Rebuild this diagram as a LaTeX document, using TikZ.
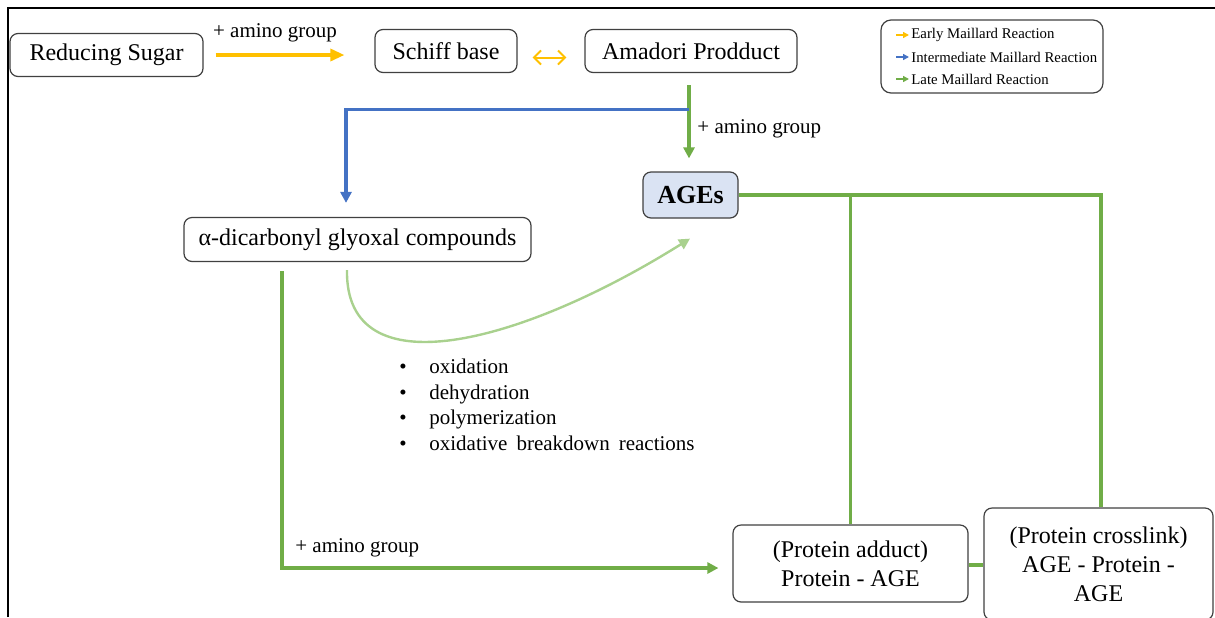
\documentclass[tikz,border=0pt]{standalone}
\usepackage{fontspec}
\setmainfont{Liberation Serif}
\usetikzlibrary{arrows.meta,calc}
\definecolor{cyel}{HTML}{FFC000}
\definecolor{cblue}{HTML}{4472C4}
\definecolor{cgreen}{HTML}{70AD47}
\definecolor{clight}{HTML}{A9D18E}
\definecolor{cagefill}{HTML}{DAE3F3}
\definecolor{cbord}{HTML}{404040}
\begin{document}
\begin{tikzpicture}[x=0.5pt,y=-0.5pt,
  box/.style={draw=cbord, line width=0.6pt, rounded corners=4pt, fill=white, inner sep=0pt, align=center, font=\fontsize{12}{14.5}\selectfont},
  lbl/.style={font=\fontsize{10.5}{12}\selectfont, inner sep=0pt},
  legtxt/.style={font=\fontsize{7.4}{9}\selectfont, inner sep=0pt, anchor=west},
  yarr/.style={draw=cyel, line width=1.6pt, -{Triangle[length=7pt,width=6pt]}},
  barr/.style={draw=cblue, line width=1.6pt, -{Triangle[length=5.5pt,width=5.5pt]}},
  garr/.style={draw=cgreen, line width=1.6pt, -{Triangle[length=5.5pt,width=5.5pt]}},
  gline/.style={draw=cgreen, line width=1.6pt},
  carr/.style={draw=clight, line width=1.2pt, -{Triangle[length=5.5pt,width=5.5pt]}},
  legarr/.style={line width=1pt, -{Triangle[length=3pt,width=3pt]}}
]
\useasboundingbox (0,0) rectangle (1215,617);
\draw[line width=1pt] (8,617) -- (8,8) -- (1215,8);

% nodes
\node[box, minimum width=96.5pt, minimum height=21.5pt] (rs) at (106.5,55) {Reducing Sugar};
\node[box, minimum width=71pt, minimum height=21.5pt] (sb) at (446,51) {Schiff base};
\node[box, minimum width=106pt, minimum height=21.5pt] (am) at (691,51) {Amadori Prodduct};
\node[box, minimum width=173.5pt, minimum height=22pt] (al) at (357.5,239.5) {α-dicarbonyl glyoxal compounds};
\node[box, fill=cagefill, minimum width=47.5pt, minimum height=23pt, font=\fontsize{13}{15}\selectfont\bfseries] (age) at (690.5,195) {AGEs};
\node[box, minimum width=117.5pt, minimum height=38.5pt] (ad) at (850.5,563.5) {(Protein adduct)\\Protein - AGE};
\node[box, minimum width=114.5pt, minimum height=56pt] (cl) at (1098.5,564) {(Protein crosslink)\\AGE - Protein -\\AGE};

% legend
\node[draw=cbord, line width=0.6pt, rounded corners=5pt, minimum width=111pt, minimum height=36.5pt, inner sep=0pt] (leg) at (992,56.5) {};
\coordinate (l1) at (896,35);
\coordinate (l2) at (896,57);
\coordinate (l3) at (896,79);
\draw[legarr, cyel] (l1) -- ++(13,0);
\draw[legarr, cblue] (l2) -- ++(13,0);
\draw[legarr, cgreen] (l3) -- ++(13,0);
\node[legtxt] (t1) at (911,35) {Early Maillard Reaction};
\node[legtxt] (t2) at (911,57) {Intermediate Maillard Reaction};
\node[legtxt] (t3) at (911,79) {Late Maillard Reaction};

% early
\draw[yarr] ($(rs.east)+(12,0)$) -- ($(sb.west|-rs.east)+(-30,0)$);
\node[lbl] (lab1) at (275,33) {+ amino group};
\draw[cyel, line width=1pt, {Straight Barb[length=3.5pt,width=7pt]}-{Straight Barb[length=3.5pt,width=7pt]}] ($(sb.east)+(15,6.5)$) -- ($(am.west)+(-18,6.5)$);

% amadori -> AGEs
\coordinate (bj) at ($(am.south)+(-2,36)$);
\draw[garr] ($(am.south)+(-2,12)$) -- ($(age.north)+(-1.5,-13)$);
\node[lbl, anchor=west] (lab2) at (697,129) {+ amino group};
\draw[barr] (bj) -| ($(al.north)+(-11.5,-14)$);

% AGEs -> products
\draw[gline] (age.east) -| ($(cl.north)+(2.5,0)$);
\draw[gline] (age.east -| ad.north) -- (ad.north);
\draw[gline] ($(ad.east)+(0,1.5)$) -- ($(ad.east -| cl.west)+(0,1.5)$);

% dicarbonyl -> adduct
\coordinate (g1) at ($(al.south)+(-75.5,9)$);
\draw[garr] (g1) |- ($(ad.west)+(-14,4.5)$);
\node[lbl, anchor=west] (lab3) at (295,548) {+ amino group};

% curve
\coordinate (c1) at ($(al.south)+(-10.5,8)$);
\draw[carr] (c1) .. controls (345,390) and (520,345) .. ($(age.south)+(-0.5,20)$);

\node[anchor=north west, inner sep=0pt, align=left, font=\fontsize{10.5}{12.75}\selectfont] (bl) at (399,359)
  {\makebox[15pt][l]{\textbullet}oxidation\\
   \makebox[15pt][l]{\textbullet}dehydration\\
   \makebox[15pt][l]{\textbullet}polymerization\\
   \makebox[15pt][l]{\textbullet}oxidative\hspace{4.5pt}breakdown\hspace{4.5pt}reactions};
\end{tikzpicture}
\end{document}
